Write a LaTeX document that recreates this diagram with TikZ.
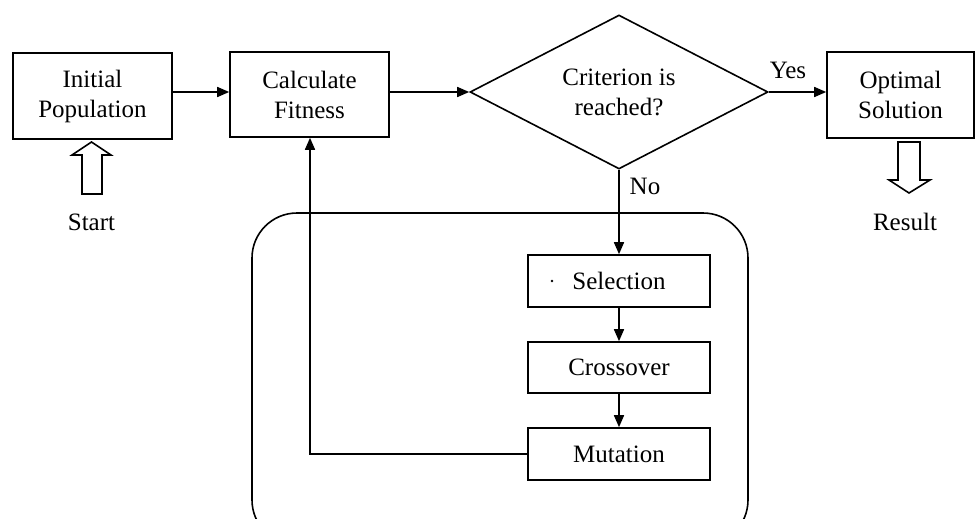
\documentclass[tikz,border=0pt]{standalone}
\usepackage{fontspec}
\setmainfont{Liberation Serif}
\usetikzlibrary{shapes.geometric,arrows.meta}
\begin{document}
\begin{tikzpicture}[x=1pt,y=-1pt,
  line width=1.6pt,
  box/.style={draw,rectangle,inner sep=0pt,align=center,font=\fontsize{25}{30}\selectfont},
  dec/.style={draw,diamond,aspect=2,inner sep=0pt,align=center,font=\fontsize{25}{30}\selectfont,minimum width=298pt,minimum height=154pt},
  lbl/.style={inner sep=0pt,font=\fontsize{25}{30}\selectfont},
  conn/.style={-{Triangle[length=12pt,width=10pt]}},
  hollow/.style={draw,line width=1.6pt,fill=white}]
\useasboundingbox (0,0) rectangle (977,519);
\clip (0,0) rectangle (977,519);
% rounded group
\draw[rounded corners=45pt] (252,213) rectangle (748,545);
% nodes
\node[box,minimum width=159pt,minimum height=86pt] (init) at (92.5,96) {Initial\\Population};
\node[box,minimum width=159pt,minimum height=85pt] (calc) at (309.5,94.5) {Calculate\\Fitness};
\node[dec] (crit) at (619,92) {Criterion is\\reached?};
\node[box,minimum width=147pt,minimum height=86pt] (opt) at (900.5,95) {Optimal\\Solution};
\node[box,minimum width=182pt,minimum height=52pt] (sel) at (619,281) {Selection};
\node[box,minimum width=182pt,minimum height=51pt] (cross) at (619,367.5) {Crossover};
\node[box,minimum width=182pt,minimum height=52pt] (mut) at (619,454) {Mutation};
\fill (552,281) circle (1.3pt);
% labels
\node[lbl] (start) at (91.5,222) {Start};
\node[lbl] (result) at (905,222) {Result};
\node[lbl] (yes) at (788,70) {Yes};
\node[lbl] (no) at (645,186) {No};
% connectors
\draw[conn] (init.east |- crit.west) -- (calc.west |- crit.west);
\draw[conn] (calc.east |- crit.west) -- (crit.west);
\draw[conn] (crit.east) -- (opt.west |- crit.east);
\draw[conn] (crit.south) -- (sel.north);
\draw[conn] (sel.south) -- (cross.north);
\draw[conn] (cross.south) -- (mut.north);
\coordinate (corner) at (310,454);
\draw[conn] (mut.west) -- (corner) -- (calc.south -| corner);
% hollow arrows
\draw[hollow] (91.5,142) -- (111,155) -- (102,155) -- (102,194) -- (82,194) -- (82,155) -- (72,155) -- cycle;
\draw[hollow] (909,193) -- (930,180) -- (920,180) -- (920,142) -- (898,142) -- (898,180) -- (889,180) -- cycle;
\end{tikzpicture}
\end{document}
